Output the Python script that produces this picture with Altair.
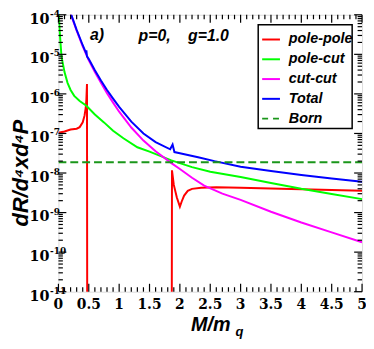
import altair as alt
import pandas as pd

W, H = 307, 280
SERIF = "DejaVu Serif"
ITAL = "Liberation Sans, Arial, DejaVu Sans, sans-serif"

# ---- data (x = M/m_q, values as log10) ----
pp_x = [0.0, 0.1, 0.2, 0.3, 0.35, 0.4, 0.43, 0.45, 0.46, 0.47, 0.475,
        1.865, 1.87, 1.9, 1.95, 2.0, 2.03, 2.07, 2.13, 2.2, 2.35, 2.6, 3.0, 3.5, 4.0, 4.5, 5.0]
pp_log = [-6.98, -6.95, -6.9, -6.88, -6.84, -6.72, -6.55, -6.35, -6.15, -5.75, -13.0,
          -13.0, -7.93, -8.3, -8.62, -8.85, -8.72, -8.57, -8.45, -8.4, -8.37, -8.36, -8.37, -8.39, -8.41, -8.43, -8.45]

pc_x = [0.0, 0.02, 0.05, 0.1, 0.15, 0.2, 0.26, 0.35, 0.46, 0.6, 0.75, 0.9, 1.07, 1.3, 1.5,
        1.86, 2.2, 2.5, 3.0, 3.5, 4.0, 4.5, 5.0]
pc_log = [-3.85, -4.4, -5.05, -5.45, -5.72, -5.9, -6.05, -6.18, -6.3, -6.52, -6.72, -6.93, -7.12,
          -7.35, -7.46, -7.68, -7.85, -7.97, -8.1, -8.25, -8.4, -8.53, -8.66]

cc_x = [0.2, 0.3, 0.4, 0.5, 0.6, 0.7, 0.8, 0.9, 1.0, 1.2, 1.4, 1.6, 1.86, 2.0, 2.2, 2.4,
        2.7, 3.0, 3.5, 4.0, 4.5, 5.0]
cc_log = [-3.97, -4.4, -4.8, -5.15, -5.45, -5.72, -5.98, -6.22, -6.45, -6.85, -7.18, -7.45,
          -7.75, -7.9, -8.12, -8.32, -8.52, -8.68, -8.98, -9.25, -9.5, -9.75]

tot_x = [0.2, 0.3, 0.4, 0.45, 0.46, 0.47, 0.5, 0.6, 0.7, 0.8, 0.9, 1.0, 1.2, 1.4, 1.6, 1.84,
         1.88, 1.91, 2.0, 2.3, 2.57, 3.0, 3.5, 4.0, 4.5, 5.0]
tot_log = [-3.95, -4.38, -4.77, -4.95, -4.9, -5.05, -5.12, -5.4, -5.66, -5.9, -6.12, -6.33,
           -6.7, -7.0, -7.22, -7.4, -7.28, -7.47, -7.5, -7.6, -7.7, -7.84, -7.95, -8.05, -8.14, -8.22]

born_x = [0.0, 5.0]
born_log = [-7.73, -7.73]

names = ["pole-pole", "pole-cut", "cut-cut", "Total", "Born"]
colors = ["#ff0000", "#00ff00", "#ff00ff", "#0000ff", "#1a961a"]

y_decades = [-4, -5, -6, -7, -8, -9, -10, -11]
y_minor_mult = [2, 3, 4, 5, 6, 7, 8, 9]
x_major = [0, 0.5, 1, 1.5, 2, 2.5, 3, 3.5, 4, 4.5, 5]
x_labels = ["0", "0.5", "1", "1.5", "2", "2.5", "3", "3.5", "4", "4.5", "5"]
x_minor = [i / 10 for i in range(51) if i % 5 != 0]

rows = []
for nm, xs, ls in [("pole-pole", pp_x, pp_log), ("pole-cut", pc_x, pc_log),
                   ("cut-cut", cc_x, cc_log), ("Total", tot_x, tot_log)]:
    for i, (a, b) in enumerate(zip(xs, ls)):
        rows.append({"series": nm, "x": a, "y": 10 ** b, "i": i})
df = pd.DataFrame(rows)
df_born = pd.DataFrame({"x": born_x, "y": [10 ** v for v in born_log]})

xscale = alt.Scale(domain=[0, 5], nice=False, zero=False)
yscale = alt.Scale(type="log", domain=[1e-11, 1e-4], nice=False)

lines = alt.Chart(df).mark_line(clip=True, strokeWidth=2).encode(
    x=alt.X("x:Q", scale=xscale, axis=None),
    y=alt.Y("y:Q", scale=yscale, axis=None),
    color=alt.Color("series:N", scale=alt.Scale(domain=names[:4], range=colors[:4]), legend=None),
    order="i:Q",
)
born = alt.Chart(df_born).mark_line(clip=True, strokeWidth=2, strokeDash=[8, 4], color=colors[4]).encode(
    x=alt.X("x:Q", scale=xscale, axis=None),
    y=alt.Y("y:Q", scale=yscale, axis=None),
)

df_ymaj = pd.DataFrame({"v": [10.0 ** e for e in y_decades], "e": [str(e) for e in y_decades]})
df_ymin = pd.DataFrame({"v": [m * 10.0 ** e for e in y_decades[1:] for m in y_minor_mult]})
df_xmaj = pd.DataFrame({"v": x_major, "lab": x_labels})
df_xmin = pd.DataFrame({"v": x_minor})

def yticks(d, ln):
    a = alt.Chart(d).mark_rule(color="black", strokeWidth=1.2).encode(
        y=alt.Y("v:Q", scale=yscale, axis=None), x=alt.value(0), x2=alt.value(ln))
    b = alt.Chart(d).mark_rule(color="black", strokeWidth=1.2).encode(
        y=alt.Y("v:Q", scale=yscale, axis=None), x=alt.value(W - ln), x2=alt.value(W))
    return [a, b]

def xticks(d, ln):
    a = alt.Chart(d).mark_rule(color="black", strokeWidth=1.2).encode(
        x=alt.X("v:Q", scale=xscale, axis=None), y=alt.value(H), y2=alt.value(H - ln))
    b = alt.Chart(d).mark_rule(color="black", strokeWidth=1.2).encode(
        x=alt.X("v:Q", scale=xscale, axis=None), y=alt.value(0), y2=alt.value(ln))
    return [a, b]

ticks = yticks(df_ymaj, 8) + yticks(df_ymin, 4.5) + xticks(df_xmaj, 8) + xticks(df_xmin, 4.5)

ylab10 = alt.Chart(df_ymaj).mark_text(font=SERIF, fontWeight="bold", fontSize=14.5, align="right",
                                       baseline="middle", dy=5, color="black").encode(
    y=alt.Y("v:Q", scale=yscale, axis=None), x=alt.value(-9), text=alt.value("10"))
ylabexp = alt.Chart(df_ymaj).mark_text(font=SERIF, fontWeight="bold", fontSize=9, align="left",
                                        baseline="middle", dy=-1, color="black").encode(
    y=alt.Y("v:Q", scale=yscale, axis=None), x=alt.value(-8.5), text="e:N")
xlab = alt.Chart(df_xmaj).mark_text(font=SERIF, fontWeight="bold", fontSize=14, align="center",
                                     baseline="middle", color="black").encode(
    x=alt.X("v:Q", scale=xscale, axis=None), y=alt.value(H + 13), text="lab:N")

one = pd.DataFrame({"a": [0]})

def label(txt, x, y, size, align="left", baseline="middle", angle=0):
    kw = dict(font=ITAL, fontWeight="bold", fontStyle="italic", fontSize=size, align=align,
              baseline=baseline, color="black", text=txt)
    if angle:
        kw["angle"] = angle
    return alt.Chart(one).mark_text(**kw).encode(x=alt.value(x), y=alt.value(y))

titles = [
    label("dR/d⁴xd⁴P", -31, 160, 22, align="center", baseline="alphabetic", angle=270),
    label("M/m", 154, 320, 20, align="center", baseline="alphabetic"),
    label("q", 179, 325, 13, align="left", baseline="alphabetic"),
    label("a)", 39, 21, 16, align="center"),
    label("p=0,", 81, 22, 16),
    label("g=1.0", 131, 22, 16),
]

legend_box = alt.Chart(one).mark_rect(fill="white", stroke="black", strokeWidth=1.5).encode(
    x=alt.value(202), x2=alt.value(297), y=alt.value(10), y2=alt.value(115))
leg = [legend_box]
for k, (nm, c) in enumerate(zip(names, colors)):
    yy = 25 + k * 20
    kw = dict(color=c, strokeWidth=2)
    if nm == "Born":
        kw["strokeDash"] = [6, 5]
    leg.append(alt.Chart(one).mark_rule(**kw).encode(
        x=alt.value(206), x2=alt.value(224), y=alt.value(yy)))
    leg.append(label(nm, 233, yy, 14.5))

chart = alt.layer(lines, born, *ticks, ylab10, ylabexp, xlab, *titles, *leg).properties(
    width=W, height=H,
    autosize=alt.AutoSizeParams(type="none"),
    padding={"left": 51, "top": 5, "right": 4, "bottom": 48},
).configure_view(stroke="black", strokeWidth=2).configure(background="white")

chart.save("out.html", embed_options={"renderer": "svg", "actions": False})
